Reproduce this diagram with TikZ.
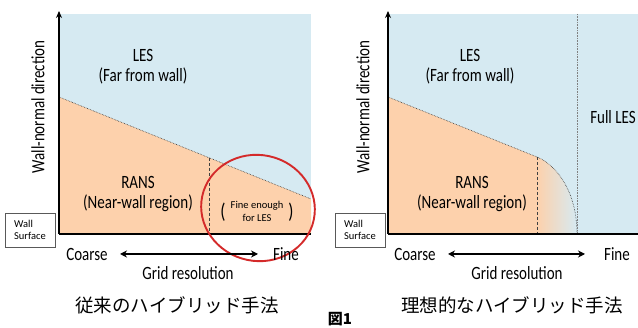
\documentclass[tikz,border=0pt]{standalone}
\usepackage{fontspec}
\setmainfont{Carlito}
\newfontfamily\jp{Noto Sans CJK JP}
\usetikzlibrary{arrows.meta}
\definecolor{lesblue}{HTML}{D6EAF2}
\definecolor{ransorange}{HTML}{FDD1AC}
\definecolor{ringred}{HTML}{D42A2A}
\newcommand{\tall}[1]{\scalebox{1}[1.25]{#1}}
\begin{document}
\begin{tikzpicture}[x=1pt,y=1pt,
  lbl/.style={inner sep=0pt, font=\fontsize{15}{16}\selectfont},
  small/.style={inner sep=0pt, font=\fontsize{10.5}{11}\selectfont},
  jptitle/.style={inner sep=0pt, font=\jp\fontsize{18.5}{20}\selectfont},
  axisline/.style={line width=1.3pt, black},
  divline/.style={line width=0.6pt, black!80, densely dotted},
  splitline/.style={line width=0.8pt, black!75, dash pattern=on 3pt off 2pt},
  gridarrow/.style={line width=1.2pt, {Stealth[length=7pt,width=7pt]}-{Stealth[length=7pt,width=7pt]}},
  wallbox/.style={draw=black!65, line width=0.6pt, minimum width=50pt, minimum height=34pt, inner sep=2pt, align=left, font=\fontsize{10.5}{12.5}\selectfont}
]
\useasboundingbox (0,0) rectangle (638,-328);
\fill[white] (0,0) rectangle (638,-328);

% ---------- left panel ----------
\fill[lesblue] (59,-14) rectangle (311,-234);
\fill[ransorange] (59,-97) -- (311,-199) -- (311,-234) -- (59,-234) -- cycle;
\coordinate (Ld0) at (59,-97);
\coordinate (Ld1) at (311,-199);
\draw[divline] (Ld0) -- (Ld1);
\coordinate (Lv0) at (209,-157.7);
\coordinate (Lv1) at (209,-234);
\draw[splitline] (Lv0) -- (Lv1);
\coordinate (Lo) at (59,-234);
\coordinate (Ltop) at (59,-11);
\coordinate (Lend) at (311,-234);
\draw[axisline] (Lo) -- (Lend);
\draw[axisline, -{Stealth[length=7pt,width=6pt]}] (Lo) -- (Ltop);

\node[lbl] (Lles) at (143,-55) {\tall{LES}};
\node[lbl] (Llesd) at (143,-76) {\tall{(Far from wall)}};
\node[lbl] (Lrans) at (138,-182) {\tall{RANS}};
\node[lbl] (Lransd) at (138,-203) {\tall{(Near-wall region)}};
\node[lbl, rotate=90] (Lyl) at (38,-107) {\tall{Wall-normal direction}};
\node[inner sep=0pt, font=\fontsize{17}{18}\selectfont] (Lp1) at (223,-212) {\tall{(}};
\node[inner sep=0pt, font=\fontsize{17}{18}\selectfont] (Lp2) at (291,-212) {\tall{)}};
\node[small] (Lfe1) at (257,-206) {Fine enough};
\node[small] (Lfe2) at (257,-218) {for LES};
\draw[ringred, line width=1.9pt, rotate around={-12:(258,-208)}] (258,-208) ellipse [x radius=57pt, y radius=53pt];
\node[wallbox] (Lwall) at (30,-230) {Wall\\Surface};
\node[lbl] (Lcoarse) at (87,-254) {\tall{Coarse}};
\node[lbl] (Lfine) at (286,-254) {\tall{Fine}};
\coordinate (La0) at (120,-254);
\coordinate (La1) at (258,-254);
\draw[gridarrow] (La0) -- (La1);
\node[lbl] (Lgrid) at (188,-273) {\tall{Grid resolution}};
\node[jptitle] (Ltitle) at (177,-305) {従来のハイブリッド手法};

% ---------- right panel ----------
\fill[lesblue] (388,-14) rectangle (638,-234);
\fill[ransorange] (388,-97) -- (537,-157) -- (537,-234) -- (388,-234) -- cycle;
\shade[left color=ransorange, right color=lesblue] (537,-157) .. controls (555,-164) and (577,-190) .. (577,-234) -- (537,-234) -- cycle;
\coordinate (Rd0) at (388,-97);
\coordinate (Rd1) at (537,-157);
\coordinate (Rc1) at (577,-234);
\draw[divline] (Rd0) -- (Rd1) .. controls (555,-164) and (577,-190) .. (Rc1);
\coordinate (Rv1) at (537,-234);
\draw[splitline] (Rd1) -- (Rv1);
\coordinate (Rf0) at (577,-14);
\draw[black!50, line width=0.6pt, densely dotted] (Rf0) -- (Rc1);
\coordinate (Ro) at (388,-234);
\coordinate (Rtop) at (388,-11);
\coordinate (Rend) at (638,-234);
\draw[axisline] (Ro) -- (Rend);
\draw[axisline, -{Stealth[length=7pt,width=6pt]}] (Ro) -- (Rtop);

\node[lbl] (Rles) at (470,-55) {\tall{LES}};
\node[lbl] (Rlesd) at (470,-76) {\tall{(Far from wall)}};
\node[lbl] (Rrans) at (472,-182) {\tall{RANS}};
\node[lbl] (Rransd) at (472,-203) {\tall{(Near-wall region)}};
\node[lbl] (Rfull) at (613,-117) {\tall{Full LES}};
\node[lbl, rotate=90] (Ryl) at (363,-107) {\tall{Wall-normal direction}};
\node[wallbox] (Rwall) at (360,-230) {Wall\\Surface};
\node[lbl] (Rcoarse) at (415,-254) {\tall{Coarse}};
\node[lbl] (Rfine) at (617,-254) {\tall{Fine}};
\coordinate (Ra0) at (448,-254);
\coordinate (Ra1) at (585,-254);
\draw[gridarrow] (Ra0) -- (Ra1);
\node[lbl] (Rgrid) at (517,-273) {\tall{Grid resolution}};
\node[jptitle] (Rtitle) at (512,-305) {理想的なハイブリッド手法};

\node[inner sep=0pt, font=\jp\bfseries\fontsize{15}{16}\selectfont] (fig) at (340,-319) {図1};
\end{tikzpicture}
\end{document}
